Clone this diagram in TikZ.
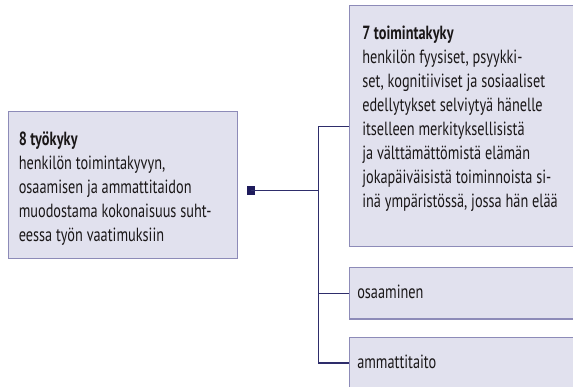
\documentclass[tikz,border=0pt]{standalone}
\usepackage{fontspec}
\setmainfont{PT Sans}[FakeStretch=0.75]
\definecolor{boxfill}{HTML}{E1E1EE}
\definecolor{boxline}{HTML}{8D8BB8}
\definecolor{connc}{HTML}{2E2D6B}
\definecolor{sqc}{HTML}{1E1B5C}
\definecolor{txtc}{HTML}{1A1718}
\begin{document}
\begin{tikzpicture}[x=0.75pt,y=-0.75pt,
  box/.style={draw=boxline, fill=boxfill, line width=1.1pt, inner sep=0pt, anchor=north west},
  conn/.style={draw=connc, line width=1.1pt},
  txt/.style={inner sep=0pt, text=txtc, align=left, font={\fontsize{14.3pt}{18pt}\selectfont}},
  sqbox/.style={fill=sqc, inner sep=0pt, minimum size=6.2pt}]
\useasboundingbox (0,0) rectangle (573,386);
\clip (0,0) rectangle (573,386);
% boxes
\node[box, minimum width=171.75pt, minimum height=110.25pt] (work) at (8,111) {};
\node[box, minimum width=180pt, minimum height=180.75pt] (func) at (349,5) {};
\node[box, minimum width=180pt, minimum height=38.5pt] (osa) at (349,267) {};
\node[box, minimum width=180pt, minimum height=38pt] (amm) at (349,337) {};
\node[sqbox] (sq) at (250.7,190.5) {};
% connectors
\coordinate (j) at (318.7,190.5);
\draw[conn] (sq.center) -- (j);
\draw[conn] (func.west) -| (j) |- (amm.west);
\draw[conn] (osa.west) -- (osa.west -| j);
% texts
\node[txt, anchor=north west] (wtxt) at (18.5,131.5) {\textbf{8 työkyky}\\henkilön toimintakyvyn,\\osaamisen ja ammattitaidon\\muodostama kokonaisuus suht-\\eessa työn vaatimuksiin};
\node[txt, anchor=north west] (ftxt) at (362,25.5) {\textbf{7 toimintakyky}\\henkilön fyysiset, psyykki-\\set, kognitiiviset ja sosiaaliset\\edellytykset selviytyä hänelle\\itselleen merkityksellisistä\\ja välttämättömistä elämän\\jokapäiväisistä toiminnoista si-\\inä ympäristössä, jossa hän elää};
\node[txt, anchor=base west] (otxt) at (357,298) {osaaminen};
\node[txt, anchor=base west] (atxt) at (357,368) {ammattitaito};
\end{tikzpicture}
\end{document}
